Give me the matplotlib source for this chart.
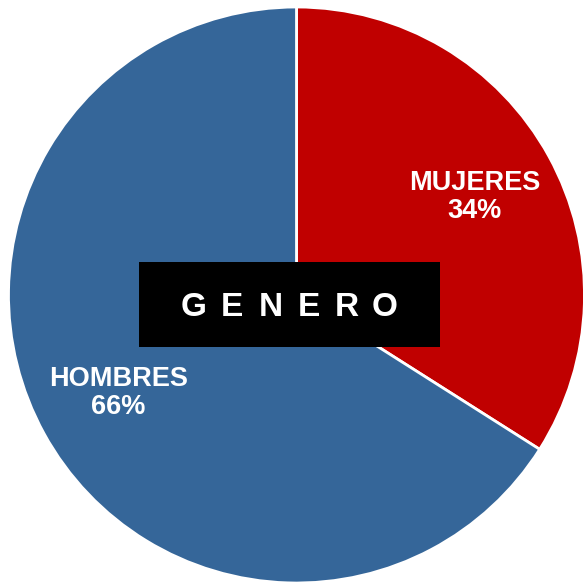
import matplotlib.pyplot as plt
from matplotlib.patches import Rectangle

# Data
categories = ["MUJERES", "HOMBRES"]
shares = [34, 66]
colors = ["#C00000", "#356699"]
title = "GENERO"

W, H = 583, 582
fig = plt.figure(figsize=(W / 100, H / 100), dpi=100)
ax = fig.add_axes([0, 0, 1, 1])

labels = [f"{c}\n{s}%" for c, s in zip(categories, shares)]
wedges, texts = ax.pie(
    shares, labels=labels, colors=colors, startangle=90, counterclock=False,
    center=(296.5, H - 295), radius=288, labeldistance=0.705,
    wedgeprops=dict(edgecolor="white", linewidth=2),
    textprops=dict(color="white", fontsize=19.5, fontweight="bold",
                   family="Liberation Sans"),
)
for t in texts:
    t.set_ha("center")
    t.set_va("center")
    t.set_multialignment("center")
    t.set_linespacing(1.1)

# pie() resets the limits, so set them afterwards
ax.set_xlim(0, W)
ax.set_ylim(0, H)
ax.set_aspect("equal")
ax.axis("off")

# Central title box, letters spread out
ax.add_patch(Rectangle((139, H - 347), 301, 85, facecolor="black", zorder=5))
x0, step = 194, 38.2
for i, ch in enumerate(title):
    ax.text(x0 + i * step, H - 316, ch, color="white", fontsize=24,
            fontweight="bold", family="Liberation Sans", ha="center",
            va="baseline", zorder=6)

fig.savefig("out.png", dpi=100)
